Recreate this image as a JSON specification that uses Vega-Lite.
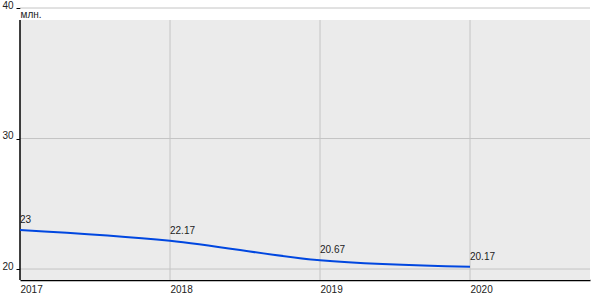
{
  "$schema": "https://vega.github.io/schema/vega-lite/v6.json",
  "width": 570,
  "height": 272,
  "autosize": {"type": "none"},
  "padding": {"left": 20, "top": 8, "right": 10, "bottom": 20},
  "background": "white",
  "config": {
    "view": {"stroke": null},
    "font": "Liberation Sans",
    "axis": {"labelFont": "Liberation Sans", "labelFontSize": 10, "labelColor": "#222", "titleFont": "Liberation Sans"}
  },
  "datasets": {
    "series": [
      {"year": 2017, "value": 23, "label": "23"},
      {"year": 2018, "value": 22.17, "label": "22.17"},
      {"year": 2019, "value": 20.67, "label": "20.67"},
      {"year": 2020, "value": 20.17, "label": "20.17"}
    ],
    "bg": [{"x": 2017, "x2": 2020.8, "y": 19.16, "y2": 39.08}],
    "hgrid": [{"v": 20, "x": 2017, "x2": 2020.8}, {"v": 30, "x": 2017, "x2": 2020.8}, {"v": 40, "x": 2017, "x2": 2020.8}],
    "vgrid": [{"year": 2018, "y": 19.16, "y2": 39.08}, {"year": 2019, "y": 19.16, "y2": 39.08}, {"year": 2020, "y": 19.16, "y2": 39.08}],
    "yaxis": [{"year": 2017, "y": 19.16, "y2": 39.08}]
  },
  "layer": [
    {
      "data": {"name": "bg"},
      "mark": {"type": "rect", "fill": "#ebebeb"},
      "encoding": {
        "x": {"field": "x", "type": "quantitative", "scale": {"domain": [2017, 2020.8], "nice": false, "zero": false},
          "axis": {"values": [2017, 2018, 2019, 2020], "format": "d", "title": null, "grid": false, "ticks": false, "domain": true, "domainColor": "black", "domainWidth": 1.5, "labelAlign": "left", "labelBaseline": "top", "labelPadding": 4, "labelFlush": false}},
        "x2": {"field": "x2"},
        "y": {"field": "y", "type": "quantitative", "scale": {"domain": [19.16, 40], "nice": false, "zero": false},
          "axis": {"values": [20, 30, 40], "title": "млн.", "titleAngle": 0, "titleAlign": "left", "titleBaseline": "alphabetic", "titleX": 0, "titleY": 9, "titleFontSize": 10, "titleFontWeight": "normal", "titleColor": "#222", "grid": false, "domain": false, "ticks": true, "tickColor": "black", "tickSize": 4, "labelPadding": 3, "labelBaseline": "alphabetic"}},
        "y2": {"field": "y2"}
      }
    },
    {
      "data": {"name": "hgrid"},
      "mark": {"type": "rule", "color": "#c4c4c4", "strokeWidth": 1},
      "encoding": {
        "y": {"field": "v", "type": "quantitative"},
        "x": {"field": "x", "type": "quantitative"},
        "x2": {"field": "x2"}
      }
    },
    {
      "data": {"name": "vgrid"},
      "mark": {"type": "rule", "color": "#c4c4c4", "strokeWidth": 1},
      "encoding": {
        "x": {"field": "year", "type": "quantitative"},
        "y": {"field": "y", "type": "quantitative"},
        "y2": {"field": "y2"}
      }
    },
    {
      "data": {"name": "yaxis"},
      "mark": {"type": "rule", "color": "black", "strokeWidth": 1.5},
      "encoding": {
        "x": {"field": "year", "type": "quantitative"},
        "y": {"field": "y", "type": "quantitative"},
        "y2": {"field": "y2"}
      }
    },
    {
      "data": {"name": "series"},
      "mark": {"type": "line", "color": "#0047e0", "strokeWidth": 2, "interpolate": "monotone"},
      "encoding": {
        "x": {"field": "year", "type": "quantitative"},
        "y": {"field": "value", "type": "quantitative"}
      }
    },
    {
      "data": {"name": "series"},
      "mark": {"type": "text", "align": "left", "baseline": "alphabetic", "dy": -7, "fontSize": 10, "color": "#222", "font": "Liberation Sans"},
      "encoding": {
        "x": {"field": "year", "type": "quantitative"},
        "y": {"field": "value", "type": "quantitative"},
        "text": {"field": "label"}
      }
    }
  ]
}
